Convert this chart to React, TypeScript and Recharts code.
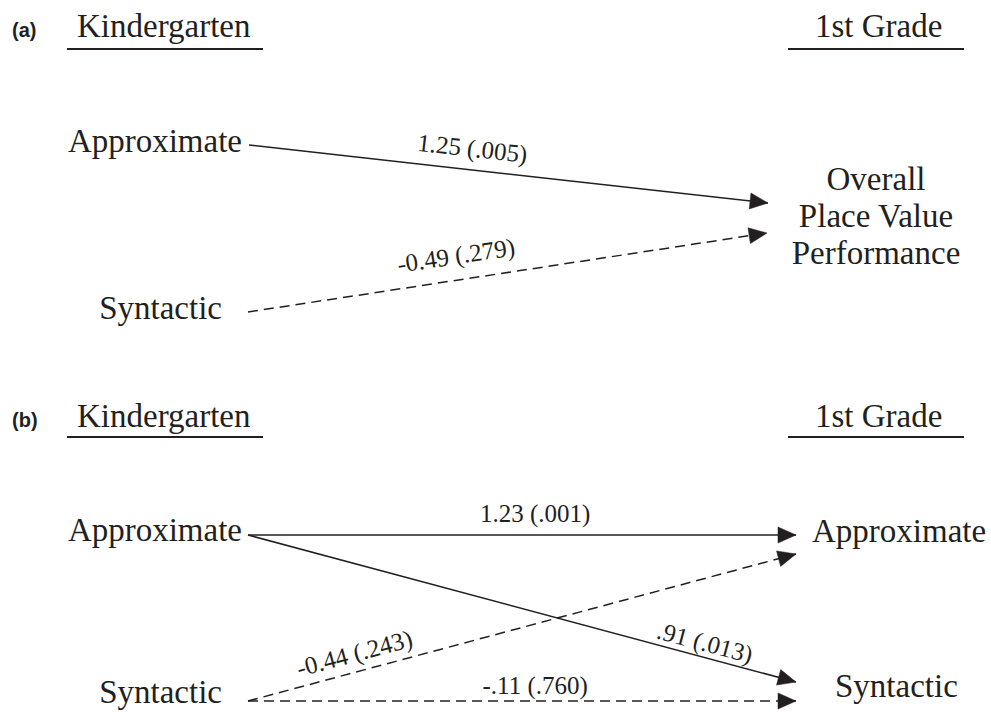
import React from 'react';
import { ComposedChart, Scatter, XAxis, YAxis } from 'recharts';

// ---------- content ----------
const panelTags = ['(a)', '(b)'];
const waveTitles = ['Kindergarten', '1st Grade'];
const predictorNames = ['Approximate', 'Syntactic'];
const outcomeALines = ['Overall', 'Place Value', 'Performance'];
const outcomeBNames = ['Approximate', 'Syntactic'];
const estimatesA = ['1.25', '-0.49'];
const pValuesA = ['.005', '.279'];
const significantA = [true, false];
const estimatesB = ['1.23', '.91', '-0.44', '-.11'];
const pValuesB = ['.001', '.013', '.243', '.760'];
const significantB = [true, true, false, false];

// ---------- layout (diagram coordinate space, 991 x 712) ----------
const W = 991;
const H = 712;
const INK = '#231f20';
const headerBaseline = [37, 427];
const underlineY = [49, 437];
const tagX = 12;
const titleX = [77, 815];
const underlineX = [[67, 263], [788, 964]];
const predictorPosA = [{ x: 242, y: 152 }, { x: 222, y: 319 }];
const predictorPosB = [{ x: 242, y: 541 }, { x: 222, y: 703 }];
const outcomeAX = 876;
const outcomeAY = [190, 227, 264];
const outcomeBPos = [{ x: 812, y: 542 }, { x: 835, y: 697 }];
const edgesA = [[249, 145, 768, 203], [248, 312, 767, 233]];
const edgesB = [[248, 535, 796, 535], [248, 535, 796, 682], [248, 701, 796, 554], [248, 701, 796, 701]];
const labelPlaceA = [[0.426, 13], [0.408, 16]];
const labelPlaceB = [[0.524, 13], [0.827, 6], [0.203, 10], [0.524, 7]];

const textStyles: Record<string, any> = {
  tag: { fontFamily: '"Liberation Sans", Arial, sans-serif', fontSize: 20, fontWeight: 700 },
  title: { fontFamily: '"Liberation Serif", "Times New Roman", serif', fontSize: 33 },
  node: { fontFamily: '"Liberation Serif", "Times New Roman", serif', fontSize: 33 },
  coef: { fontFamily: '"Liberation Serif", "Times New Roman", serif', fontSize: 25 },
};

type TextItem = { x: number; y: number; text: string; anchor: string; kind: string; angle?: number };

const texts: TextItem[] = [];
panelTags.forEach((t, p) => {
  texts.push({ x: tagX, y: headerBaseline[p], text: t, anchor: 'start', kind: 'tag' });
  waveTitles.forEach((w, i) => {
    texts.push({ x: titleX[i], y: headerBaseline[p], text: w, anchor: 'start', kind: 'title' });
  });
});
predictorNames.forEach((n, i) => {
  texts.push({ x: predictorPosA[i].x, y: predictorPosA[i].y, text: n, anchor: 'end', kind: 'node' });
  texts.push({ x: predictorPosB[i].x, y: predictorPosB[i].y, text: n, anchor: 'end', kind: 'node' });
});
outcomeALines.forEach((n, i) => {
  texts.push({ x: outcomeAX, y: outcomeAY[i], text: n, anchor: 'middle', kind: 'node' });
});
outcomeBNames.forEach((n, i) => {
  texts.push({ x: outcomeBPos[i].x, y: outcomeBPos[i].y, text: n, anchor: 'start', kind: 'node' });
});

function edgeLabel(e: number[], place: number[], text: string): TextItem {
  const [x1, y1, x2, y2] = e;
  const dx = x2 - x1;
  const dy = y2 - y1;
  const len = Math.hypot(dx, dy);
  const ux = dx / len;
  const uy = dy / len;
  const [t, off] = place;
  const px = x1 + t * dx + off * uy;
  const py = y1 + t * dy - off * ux;
  return { x: px, y: py, text, anchor: 'middle', kind: 'coef', angle: (Math.atan2(dy, dx) * 180) / Math.PI };
}
estimatesA.forEach((est, i) => texts.push(edgeLabel(edgesA[i], labelPlaceA[i], `${est} (${pValuesA[i]})`)));
estimatesB.forEach((est, i) => texts.push(edgeLabel(edgesB[i], labelPlaceB[i], `${est} (${pValuesB[i]})`)));

type Edge = { pts: { x: number; y: number; head?: boolean; angle?: number }[]; dashed: boolean };
const toEdge = (e: number[], sig: boolean): Edge => {
  const [x1, y1, x2, y2] = e;
  const angle = (Math.atan2(y2 - y1, x2 - x1) * 180) / Math.PI;
  return { pts: [{ x: x1, y: y1 }, { x: x2, y: y2, head: true, angle }], dashed: !sig };
};
const edges: Edge[] = [
  ...edgesA.map((e, i) => toEdge(e, significantA[i])),
  ...edgesB.map((e, i) => toEdge(e, significantB[i])),
];

const rules: { x: number; y: number }[][] = [];
underlineY.forEach((y) => {
  underlineX.forEach(([a, b]) => rules.push([{ x: a, y }, { x: b, y }]));
});

// ---------- shapes ----------
const TextShape = (props: any) => {
  const { cx, cy, payload } = props;
  const st = textStyles[payload.kind];
  return (
    <text
      x={cx}
      y={cy}
      textAnchor={payload.anchor}
      fill={INK}
      transform={payload.angle ? `rotate(${payload.angle} ${cx} ${cy})` : undefined}
      {...st}
    >
      {payload.text}
    </text>
  );
};

const ArrowHead = (props: any) => {
  const { cx, cy, payload } = props;
  if (!payload || !payload.head) return <g />;
  const a = (payload.angle * Math.PI) / 180;
  const L = 18;
  const hw = 8;
  const bx = cx - L * Math.cos(a);
  const by = cy - L * Math.sin(a);
  const nx = -Math.sin(a) * hw;
  const ny = Math.cos(a) * hw;
  const pts = `${cx},${cy} ${bx + nx},${by + ny} ${bx - nx},${by - ny}`;
  return <polygon points={pts} fill={INK} stroke={INK} strokeWidth={0.5} />;
};

const Nothing = () => <g />;

export default function App() {
  return (
    <div style={{ position: 'absolute', left: 0, top: 0, width: W, height: H, background: '#fff' }}>
      <ComposedChart width={W} height={H} margin={{ top: 0, right: 0, bottom: 0, left: 0 }}>
        <XAxis type="number" dataKey="x" domain={[0, W]} hide allowDataOverflow />
        <YAxis type="number" dataKey="y" domain={[0, H]} reversed hide allowDataOverflow />
        {rules.map((r, i) => (
          <Scatter
            key={`rule-${i}`}
            data={r}
            line={{ stroke: INK, strokeWidth: 2.2 }}
            shape={Nothing}
            isAnimationActive={false}
          />
        ))}
        {edges.map((e, i) => (
          <Scatter
            key={`edge-${i}`}
            data={e.pts}
            line={{ stroke: INK, strokeWidth: 1.5, strokeDasharray: e.dashed ? '10 6' : undefined }}
            shape={ArrowHead}
            isAnimationActive={false}
          />
        ))}
        <Scatter data={texts} shape={TextShape} isAnimationActive={false} />
      </ComposedChart>
    </div>
  );
}
